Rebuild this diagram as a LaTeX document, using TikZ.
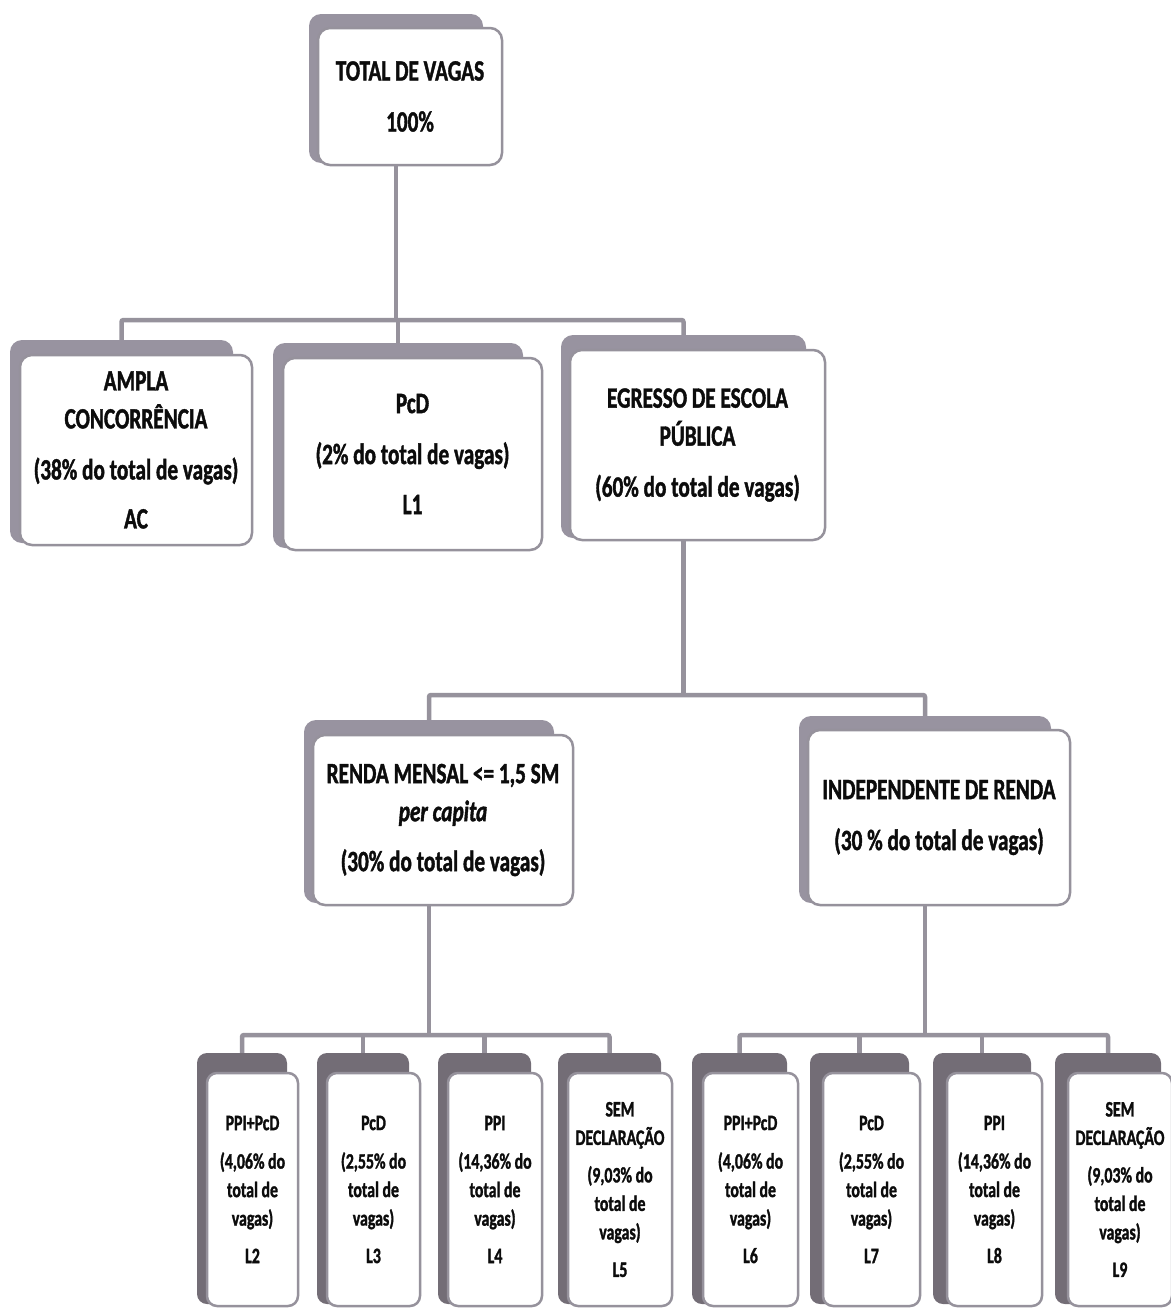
\documentclass[tikz,border=0pt]{standalone}
\usepackage{fontspec}
\newfontfamily\boxfont[FakeStretch=0.72, BoldFeatures={FakeBold=1.3}, BoldItalicFeatures={FakeBold=1.3}]{Carlito}
\definecolor{shadowc}{RGB}{152,147,160}
\definecolor{shadowd}{RGB}{115,109,118}
\definecolor{borderc}{RGB}{150,146,156}
\definecolor{connc}{RGB}{150,146,156}
\definecolor{txt}{RGB}{12,12,12}
\begin{document}
\begin{tikzpicture}[x=1pt,y=-1pt,
  shad/.style={fill=shadowc, draw=none, rounded corners=12pt, inner sep=0pt},
  shadb/.style={fill=shadowd, draw=none, rounded corners=10pt, inner sep=0pt},
  front/.style={draw=borderc, line width=2.5pt, fill=white, rounded corners=12pt,
    inner sep=0pt, align=center, text=txt,
    font=\boxfont\bfseries\fontsize{29.5}{38}\selectfont},
  frontb/.style={front, rounded corners=10pt,
    font=\boxfont\bfseries\fontsize{22}{28.5}\selectfont},
  conn/.style={draw=connc, line width=4.5pt, rounded corners=2pt}
]
\useasboundingbox[fill=white] (0,0) rectangle (1170,1309);

% ---------- top ----------
\node[shad, minimum width=174pt, minimum height=149pt] (topS) at (396,88.5) {};
\node[front, minimum width=184pt, minimum height=137pt] (top) at (410,96.5)
  {TOTAL DE VAGAS\\[13pt]100\%};

% ---------- second row ----------
\node[shad, minimum width=223pt, minimum height=203pt] (acS) at (121.5,441.5) {};
\node[front, minimum width=232pt, minimum height=190pt] (ac) at (136,450)
  {AMPLA\\CONCORRÊNCIA\\[13pt](38\% do total de vagas)\\[11pt]AC};

\node[shad, minimum width=250pt, minimum height=205pt] (l1S) at (398,445.5) {};
\node[front, minimum width=259pt, minimum height=192pt] (l1) at (412.5,454)
  {PcD\\[13pt](2\% do total de vagas)\\[12pt]L1};

\node[shad, minimum width=245pt, minimum height=203pt] (egS) at (683.5,436.5) {};
\node[front, minimum width=255pt, minimum height=190pt] (eg) at (697.5,445)
  {EGRESSO DE ESCOLA\\PÚBLICA\\[13pt](60\% do total de vagas)};

% ---------- third row ----------
\node[shad, minimum width=250pt, minimum height=183pt] (rendaS) at (429,811.5) {};
\node[front, minimum width=260pt, minimum height=170pt] (renda) at (443,820)
  {RENDA MENSAL <= 1,5 SM\\\textit{per capita}\\[12pt](30\% do total de vagas)};

\node[shad, minimum width=252pt, minimum height=187pt] (indS) at (925,809.5) {};
\node[front, minimum width=262pt, minimum height=175pt] (ind) at (939,817.5)
  {INDEPENDENTE DE RENDA\\[13pt](30 \% do total de vagas)};

% ---------- bottom row ----------
\node[shadb, minimum width=90pt, minimum height=251pt] (l2S) at (242,1178.5) {};
\node[frontb, minimum width=91pt, minimum height=233pt] (l2) at (252.5,1189.5)
  {PPI+PcD\\[10pt](4,06\% do\\total de\\vagas)\\[9pt]L2};

\node[shadb, minimum width=92pt, minimum height=251pt] (l3S) at (363,1178.5) {};
\node[frontb, minimum width=93pt, minimum height=233pt] (l3) at (373.5,1189.5)
  {PcD\\[10pt](2,55\% do\\total de\\vagas)\\[9pt]L3};

\node[shadb, minimum width=93pt, minimum height=251pt] (l4S) at (484.5,1178.5) {};
\node[frontb, minimum width=94pt, minimum height=233pt] (l4) at (495,1189.5)
  {PPI\\[10pt](14,36\% do\\total de\\vagas)\\[9pt]L4};

\node[shadb, minimum width=103pt, minimum height=251pt] (l5S) at (609.5,1178.5) {};
\node[frontb, minimum width=104pt, minimum height=233pt] (l5) at (620,1189.5)
  {SEM\\DECLARAÇÃO\\[9pt](9,03\% do\\total de\\vagas)\\[9pt]L5};

\node[shadb, minimum width=95pt, minimum height=251pt] (l6S) at (739.5,1178.5) {};
\node[frontb, minimum width=95pt, minimum height=233pt] (l6) at (750.5,1189.5)
  {PPI+PcD\\[10pt](4,06\% do\\total de\\vagas)\\[9pt]L6};

\node[shadb, minimum width=99pt, minimum height=251pt] (l7S) at (859.5,1178.5) {};
\node[frontb, minimum width=97pt, minimum height=233pt] (l7) at (871.5,1189.5)
  {PcD\\[10pt](2,55\% do\\total de\\vagas)\\[9pt]L7};

\node[shadb, minimum width=98pt, minimum height=251pt] (l8S) at (982,1178.5) {};
\node[frontb, minimum width=95pt, minimum height=233pt] (l8) at (994.5,1189.5)
  {PPI\\[10pt](14,36\% do\\total de\\vagas)\\[9pt]L8};

\node[shadb, minimum width=106pt, minimum height=251pt] (l9S) at (1108,1178.5) {};
\node[frontb, minimum width=104pt, minimum height=233pt] (l9) at (1120,1189.5)
  {SEM\\DECLARAÇÃO\\[9pt](9,03\% do\\total de\\vagas)\\[9pt]L9};

% ---------- connectors ----------
\coordinate (b1) at (0,320);
\coordinate (b2) at (0,695);
\coordinate (b3) at (0,1035);

\draw[conn] (topS |- top.south) -- (topS |- b1);
\draw[conn] (acS.north) |- (egS.north |- b1) -- (egS.north);
\draw[conn] (l1S.north |- b1) -- (l1S.north);

\draw[conn] (egS |- eg.south) -- (egS |- b2);
\draw[conn] (rendaS.north) |- (indS.north |- b2) -- (indS.north);

\draw[conn] (rendaS |- renda.south) -- (rendaS |- b3);
\draw[conn] (l2S.north) |- (l5S.north |- b3) -- (l5S.north);
\draw[conn] (l3S.north |- b3) -- (l3S.north);
\draw[conn] (l4S.north |- b3) -- (l4S.north);

\draw[conn] (indS |- ind.south) -- (indS |- b3);
\draw[conn] (l6S.north) |- (l9S.north |- b3) -- (l9S.north);
\draw[conn] (l7S.north |- b3) -- (l7S.north);
\draw[conn] (l8S.north |- b3) -- (l8S.north);
\end{tikzpicture}
\end{document}
